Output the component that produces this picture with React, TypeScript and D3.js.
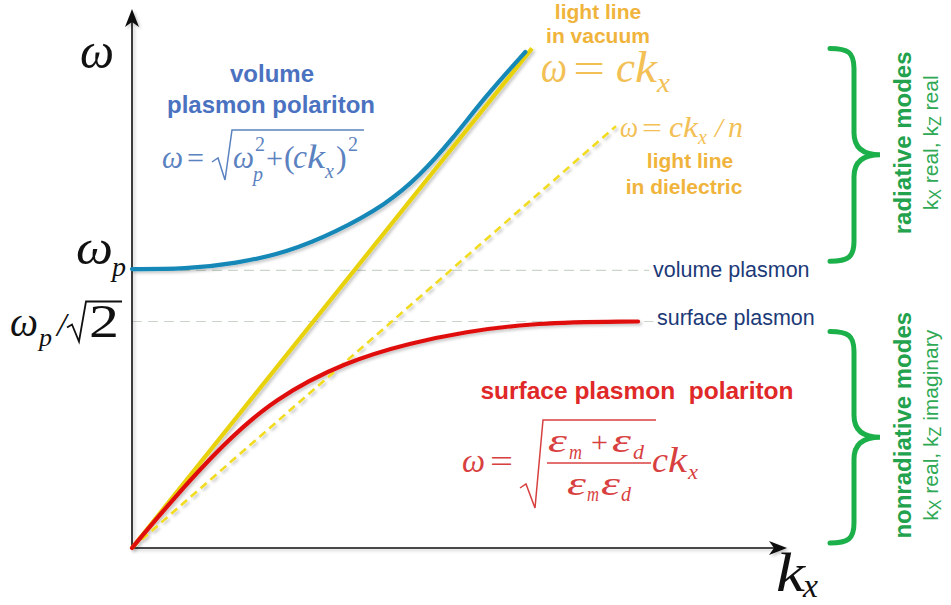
import { useEffect, useRef } from 'react';
import * as d3 from 'd3';

type Pt = [number, number];

// kx in units of ωp/c, ω in units of ωp
const volumePolariton: Pt[] = [
  [0, 1.005], [0.24, 1.005], [0.47, 1.025], [0.7, 1.065], [0.92, 1.137],
  [1.15, 1.238], [1.3, 1.339], [1.45, 1.473], [1.6, 1.628], [1.78, 1.787],
];
const surfacePolariton: Pt[] = [
  [0, 0], [0.172, 0.164], [0.407, 0.37], [0.643, 0.538], [0.968, 0.672],
  [1.267, 0.74], [1.502, 0.778], [1.814, 0.812], [2.29, 0.816],
];
const lightVacuum: Pt[] = [[0, 0], [1.81, 1.8]];
const lightDielectric: Pt[] = [[0, 0], [2.19, 1.52]];
const plasmonLevels = [
  { name: 'volume plasmon', omega: 1.0, kxEnd: 2.34 },
  { name: 'surface plasmon', omega: 0.816, kxEnd: 2.36 },
];
const modeRanges = [
  { title: 'radiative modes', kz: 'real', omega: [1.033, 1.8] },
  { title: 'nonradiative modes', kz: 'imaginary', omega: [0.018, 0.78] },
];
const kxMax = 2.964;
const omegaMax = 1.942;

const SERIF = '"Liberation Serif", "Times New Roman", serif';
const SANS = '"Liberation Sans", Arial, sans-serif';

interface LabelOpts {
  italic?: boolean;
  bold?: boolean;
  anchor?: string;
  font?: string;
  w?: number;
}

export default function App() {
  const svgRef = useRef<SVGSVGElement>(null);

  useEffect(() => {
    if (!svgRef.current) return;
    const width = 951;
    const height = 605;
    const svg = d3.select(svgRef.current);
    svg.selectAll('*').remove();
    svg.attr('width', width).attr('height', height).attr('viewBox', `0 0 ${width} ${height}`);

    const defs = svg.append('defs');
    defs
      .append('filter')
      .attr('id', 'shadow')
      .attr('filterUnits', 'userSpaceOnUse')
      .attr('x', 0).attr('y', 0).attr('width', width).attr('height', height)
      .append('feDropShadow')
      .attr('dx', 2).attr('dy', 2).attr('stdDeviation', 1.5)
      .attr('flood-color', '#000').attr('flood-opacity', 0.22);

    const x = d3.scaleLinear().domain([0, kxMax]).range([132, 787]);
    const y = d3.scaleLinear().domain([0, omegaMax]).range([548, 9]);
    const line = d3.line<Pt>().x((d) => x(d[0])).y((d) => y(d[1]));
    const smooth = d3.line<Pt>().x((d) => x(d[0])).y((d) => y(d[1])).curve(d3.curveBasis);

    // plasmon levels (gray dashed)
    svg.selectAll('.level')
      .data(plasmonLevels)
      .join('line')
      .attr('class', 'level')
      .attr('x1', x(0)).attr('x2', (d) => x(d.kxEnd))
      .attr('y1', (d) => y(d.omega)).attr('y2', (d) => y(d.omega))
      .attr('stroke', '#ccd5cc').attr('stroke-width', 1.2).attr('stroke-dasharray', '10,6');

    // axes
    const axes = svg.append('g').attr('filter', 'url(#shadow)');
    const x0 = x(0), y0 = y(0), xEnd = x(kxMax), yEnd = y(omegaMax);
    axes.append('path').attr('d', `M${x0},${y0}L${xEnd - 6},${y0}M${x0},${y0}L${x0},${yEnd + 6}`)
      .attr('stroke', '#111').attr('stroke-width', 1.6).attr('fill', 'none');
    axes.append('path')
      .attr('d', `M${xEnd},${y0}L${xEnd - 18},${y0 - 7}L${xEnd - 13},${y0}L${xEnd - 18},${y0 + 7}Z`)
      .attr('fill', '#111');
    axes.append('path')
      .attr('d', `M${x0},${yEnd}L${x0 - 7},${yEnd + 18}L${x0},${yEnd + 13}L${x0 + 7},${yEnd + 18}Z`)
      .attr('fill', '#111');

    // curves
    const curves = svg.append('g').attr('filter', 'url(#shadow)').attr('fill', 'none');
    curves.append('path').attr('d', line(lightDielectric)).attr('stroke', '#f2dc22')
      .attr('stroke-width', 2.6).attr('stroke-dasharray', '8,5');
    curves.append('path').attr('d', line(lightVacuum)).attr('stroke', '#e8d20c').attr('stroke-width', 4.2);
    curves.append('path').attr('d', smooth(volumePolariton)).attr('stroke', '#1488b8')
      .attr('stroke-width', 4.2).attr('stroke-linecap', 'round');
    curves.append('path').attr('d', smooth(surfacePolariton)).attr('stroke', '#e00f0f')
      .attr('stroke-width', 4.2).attr('stroke-linecap', 'round');

    // text helpers
    const label = (px: number, py: number, s: string, size: number, color: string, opts: LabelOpts = {}) => {
      const t = svg.append('text')
        .attr('x', px).attr('y', py)
        .attr('font-family', opts.font ?? SERIF)
        .attr('font-size', size)
        .attr('font-style', opts.italic ? 'italic' : 'normal')
        .attr('font-weight', opts.bold ? 'bold' : 'normal')
        .attr('text-anchor', opts.anchor ?? 'start')
        .attr('fill', color)
        .text(s);
      if (opts.w) t.attr('textLength', opts.w).attr('lengthAdjust', 'spacingAndGlyphs');
      return t;
    };
    const radical = (pts: Pt[], color: string, w = 1.5) =>
      svg.append('path').attr('d', d3.line()(pts)).attr('stroke', color)
        .attr('stroke-width', w).attr('fill', 'none').attr('stroke-linejoin', 'miter');

    // axis labels
    label(80, 68, 'ω', 50, '#111', { italic: true, w: 34 });
    const yp = y(1);
    label(76, yp - 6, 'ω', 48, '#111', { italic: true, w: 37 });
    label(112, yp + 6, 'p', 28, '#111', { italic: true });
    const ys = y(0.816);
    label(10, ys + 14, 'ω', 42, '#111', { italic: true, w: 28 });
    label(39, ys + 24, 'p', 26, '#111', { italic: true });
    label(57, ys + 14, '/', 34, '#111', { italic: true });
    radical([[67, ys + 6], [72, ys + 3], [79, ys + 20], [86, ys - 20], [122, ys - 20]], '#111', 1.8);
    label(89, ys + 15, '2', 46, '#111', { w: 30 });
    label(776, 591, 'k', 54, '#111', { italic: true, w: 29 });
    label(803, 597, 'x', 34, '#111', { italic: true, w: 15 });

    // volume plasmon polariton
    const blue = '#4a72c0';
    const blueF = '#5b82c0';
    label(272, 82, 'volume', 24, blue, { bold: true, anchor: 'middle', font: SANS });
    label(271, 113, 'plasmon polariton', 24, blue, { bold: true, anchor: 'middle', font: SANS });
    label(162, 168, 'ω', 32, blueF, { italic: true, w: 21 });
    label(187, 168, '=', 30, blueF, { w: 17 });
    radical([[212, 162], [218, 158], [225, 180], [232, 130], [364, 130]], blueF);
    label(233, 168, 'ω', 32, blueF, { italic: true, w: 21 });
    label(253, 181, 'p', 20, blueF, { italic: true });
    label(255, 151, '2', 20, blueF);
    label(266, 168, '+', 30, blueF, { w: 17 });
    label(284, 168, '(', 32, blueF);
    label(293, 168, 'c', 34, blueF, { italic: true, w: 14 });
    label(307, 168, 'k', 34, blueF, { italic: true, w: 18 });
    label(325, 178, 'x', 20, blueF, { italic: true });
    label(336, 168, ')', 32, blueF);
    label(348, 151, '2', 20, blueF);

    // light lines
    const gold = '#f0b43c';
    const goldF = '#f2c055';
    label(598, 19, 'light line', 21, gold, { bold: true, anchor: 'middle', font: SANS });
    label(598, 43, 'in vacuum', 21, gold, { bold: true, anchor: 'middle', font: SANS });
    label(541, 82, 'ω', 44, goldF, { italic: true, w: 26 });
    label(573, 82, '=', 42, goldF, { w: 32 });
    label(616, 82, 'c', 44, goldF, { italic: true, w: 19 });
    label(635, 82, 'k', 44, goldF, { italic: true, w: 22 });
    label(657, 92, 'x', 28, goldF, { italic: true, w: 13 });
    label(620, 137, 'ω', 30, goldF, { italic: true, w: 18 });
    label(642, 137, '=', 28, goldF, { w: 20 });
    label(669, 137, 'c', 30, goldF, { italic: true, w: 14 });
    label(683, 137, 'k', 30, goldF, { italic: true, w: 15 });
    label(698, 144, 'x', 20, goldF, { italic: true });
    label(715, 137, '/', 28, goldF, { italic: true });
    label(728, 137, 'n', 30, goldF, { italic: true, w: 15 });
    label(690, 168, 'light line', 21, gold, { bold: true, anchor: 'middle', font: SANS });
    label(684, 194, 'in dielectric', 21, gold, { bold: true, anchor: 'middle', font: SANS });

    // plasmon level labels
    const navy = '#1c3a78';
    label(653, y(plasmonLevels[0].omega) + 7, 'volume plasmon', 21.5, navy, { font: SANS });
    label(657, y(plasmonLevels[1].omega) + 3, 'surface plasmon', 21.5, navy, { font: SANS });

    // surface plasmon polariton
    const red = '#e02828';
    const redF = '#d84040';
    label(637, 399, 'surface plasmon\u00a0 polariton', 24.5, red, { bold: true, anchor: 'middle', font: SANS });
    label(462, 472, 'ω', 34, redF, { italic: true, w: 23 });
    label(490, 472, '=', 32, redF, { w: 23 });
    radical([[520, 488], [526, 484], [535, 508], [543, 420], [656, 420]], redF);
    label(548, 452, 'ε', 33, redF, { italic: true, w: 19 });
    label(569, 459, 'm', 20, redF, { italic: true, w: 13 });
    label(591, 452, '+', 30, redF, { w: 17 });
    label(612, 452, 'ε', 33, redF, { italic: true, w: 19 });
    label(633, 459, 'd', 20, redF, { italic: true, w: 11 });
    svg.append('line').attr('x1', 547).attr('x2', 651).attr('y1', 463).attr('y2', 463)
      .attr('stroke', redF).attr('stroke-width', 1.5);
    label(567, 495, 'ε', 33, redF, { italic: true, w: 19 });
    label(587, 501, 'm', 20, redF, { italic: true, w: 12 });
    label(601, 495, 'ε', 33, redF, { italic: true, w: 19 });
    label(621, 501, 'd', 20, redF, { italic: true, w: 10 });
    label(652, 472, 'c', 36, redF, { italic: true, w: 16 });
    label(668, 472, 'k', 36, redF, { italic: true, w: 19 });
    label(688, 479, 'x', 21, redF, { italic: true, w: 10 });

    // braces and mode labels
    const green = '#1cb04a';
    modeRanges.forEach((m) => {
      const top = y(m.omega[1]);
      const bot = y(m.omega[0]);
      const mid = (top + bot) / 2;
      const xe = 830, xs = 854, xt = 880;
      const p = d3.path();
      p.moveTo(xe, top);
      p.bezierCurveTo(xe + 18, top, xs, top + 4, xs, top + 20);
      p.lineTo(xs, mid - 22);
      p.bezierCurveTo(xs, mid - 8, xs + 8, mid, xt, mid);
      p.bezierCurveTo(xs + 8, mid, xs, mid + 8, xs, mid + 22);
      p.lineTo(xs, bot - 20);
      p.bezierCurveTo(xs, bot - 4, xe + 18, bot, xe, bot);
      svg.append('path').attr('d', p.toString()).attr('stroke', green).attr('stroke-width', 5)
        .attr('fill', 'none').attr('stroke-linecap', 'round');

      const cy = mid - 12;
      svg.append('text')
        .attr('transform', `translate(911,${cy}) rotate(-90)`)
        .attr('text-anchor', 'middle')
        .attr('font-family', SANS).attr('font-size', 24).attr('font-weight', 'bold')
        .attr('fill', '#22a24c')
        .text(m.title);
      const t = svg.append('text')
        .attr('transform', `translate(938,${cy}) rotate(-90)`)
        .attr('text-anchor', 'middle')
        .attr('font-family', SANS).attr('font-size', 21)
        .attr('fill', '#2fa954');
      t.append('tspan').text('k');
      t.append('tspan').attr('font-size', 16).attr('dy', 3).text('X');
      t.append('tspan').attr('dy', -3).text(' real, k');
      t.append('tspan').attr('font-size', 16).attr('dy', 3).text('Z');
      t.append('tspan').attr('dy', -3).text(` ${m.kz}`);
    });
  }, []);

  return <svg ref={svgRef} style={{ position: 'absolute', left: 0, top: 0, background: '#fff' }} />;
}
